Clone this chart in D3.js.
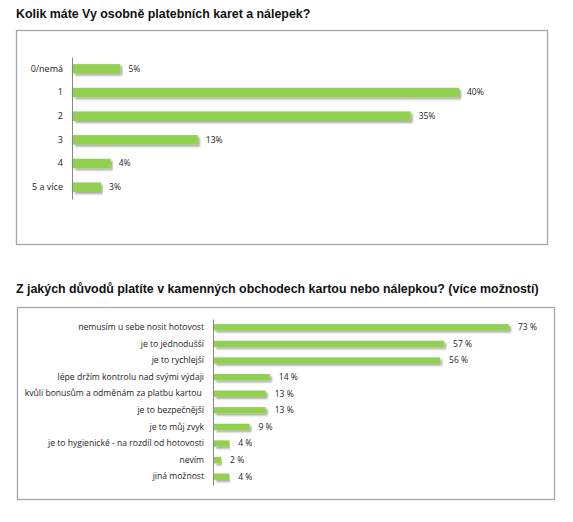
<!DOCTYPE html>
<html><head><meta charset="utf-8">
<script src="https://cdn.jsdelivr.net/npm/d3@7"></script>
<style>
body{margin:0;background:#fff;}
svg{display:block;}
</style></head>
<body>
<svg id="c" width="573" height="522"></svg>
<script>
const title1 = "Kolik máte Vy osobně platebních karet a nálepek?";
const cats1 = ["0/nemá","1","2","3","4","5 a více"];
const vals1 = [5,40,35,13,4,3];
const labels1 = ["5%","40%","35%","13%","4%","3%"];

const title2 = "Z jakých důvodů platíte v kamenných obchodech kartou nebo nálepkou? (více možností)";
const cats2 = ["nemusím u sebe nosit hotovost","je to jednodušší","je to rychlejší","lépe držím kontrolu nad svými výdaji","kvůli bonusům a odměnám za platbu kartou ","je to bezpečnější","je to můj zvyk","je to hygienické - na rozdíl od hotovosti","nevím","jiná možnost"];
const vals2 = [73,57,56,14,13,13,9,4,2,4];
const labels2 = ["73 %","57 %","56 %","14 %","13 %","13 %","9 %","4 %","2 %","4 %"];

const svg = d3.select("#c");
const defs = svg.append("defs");
const f = defs.append("filter").attr("id","sh").attr("x","-5%").attr("y","-50%").attr("width","110%").attr("height","250%");
f.append("feGaussianBlur").attr("in","SourceAlpha").attr("stdDeviation",0.8).attr("result","b");
f.append("feOffset").attr("in","b").attr("dx",1.5).attr("dy",1.8).attr("result","o");
f.append("feComponentTransfer").attr("in","o").attr("result","o2").append("feFuncA").attr("type","linear").attr("slope",0.35);
const m = f.append("feMerge"); m.append("feMergeNode").attr("in","o2"); m.append("feMergeNode").attr("in","SourceGraphic");

const titleFont = "'Liberation Sans', Arial, sans-serif";
const lblFont = "'Open Sans', sans-serif";
const green = "#92d050";

function chart(o){
  svg.append("text").attr("x",o.tx).attr("y",o.ty).attr("font-family",titleFont).attr("font-weight","bold")
    .attr("font-size",12.4).attr("fill","#111").text(o.title);
  svg.append("rect").attr("x",o.box[0]+0.5).attr("y",o.box[1]+0.5).attr("width",o.box[2]-o.box[0]).attr("height",o.box[3]-o.box[1])
    .attr("fill","#fff").attr("stroke","#a6a6a6").attr("stroke-width",1.3);
  const x = d3.scaleLinear().domain([0,o.max]).range([o.ax, o.ax+o.pxMax]);
  const y = d3.scaleBand().domain(o.cats).range([o.y0,o.y1]).paddingInner(o.pad).paddingOuter(o.pad/2);
  const g = svg.append("g");
  g.selectAll("rect.bar").data(o.vals).join("rect").attr("class","bar")
    .attr("x",x(0)+1).attr("y",(d,i)=>y(o.cats[i]))
    .attr("width",d=>x(d)-x(0)-1).attr("height",y.bandwidth())
    .attr("fill",green).attr("filter","url(#sh)");
  const ax = g.append("g").attr("transform",`translate(${o.ax},0)`)
    .call(d3.axisLeft(y).tickSize(0).tickPadding(o.tp));
  ax.select(".domain").attr("stroke","#868686").attr("stroke-width",1);
  ax.selectAll("text").attr("font-family",lblFont).attr("font-size",o.fs).attr("fill","#222").style("white-space","pre");
  g.selectAll("text.v").data(o.vals).join("text").attr("class","v")
    .attr("x",d=>x(d)+o.lg).attr("y",(d,i)=>y(o.cats[i])+y.bandwidth()/2).attr("dy","0.35em")
    .attr("font-family",lblFont).attr("font-size",o.vfs).attr("fill","#222").text((d,i)=>o.labels[i]);
}

chart({title:title1, tx:16, ty:18, box:[16,30,547,244], cats:cats1, vals:vals1, labels:labels1,
  max:40, ax:72, pxMax:387, y0:57, y1:199, pad:0.6, tp:9, fs:9, vfs:8.5, lg:8});
chart({title:title2, tx:16, ty:293, box:[17,307,554,499], cats:cats2, vals:vals2, labels:labels2,
  max:73, ax:213, pxMax:296, y0:319, y1:485, pad:0.62, tp:9, fs:8.6, vfs:8.5, lg:9});
</script>
</body></html>
